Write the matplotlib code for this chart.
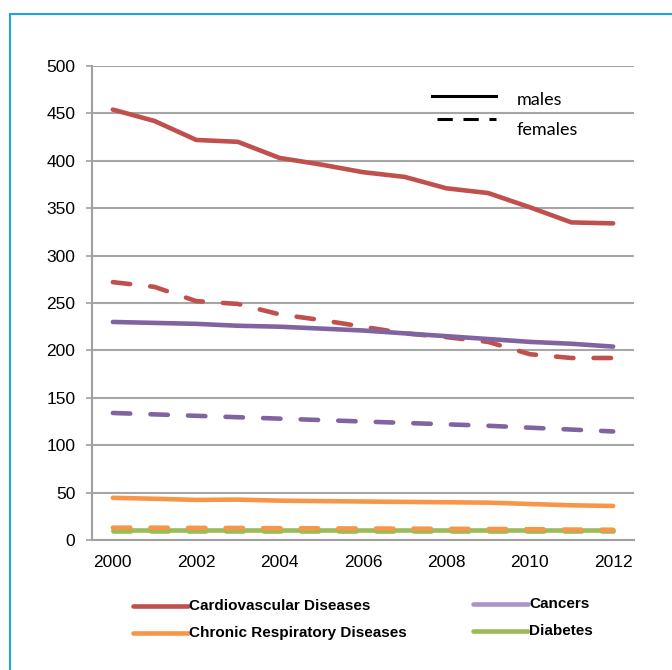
import matplotlib
matplotlib.use("Agg")
import matplotlib.pyplot as plt
from matplotlib.lines import Line2D
from matplotlib.patches import Rectangle

# Data (deaths per 100 000)
years = list(range(2000, 2013))
cvd_m = [454, 442, 422, 420, 403, 396, 388, 383, 371, 366, 351, 335, 334]
cvd_f = [272, 267, 252, 249, 238, 232, 225, 218, 214, 209, 196, 192, 192]
cancer_m = [230, 229, 228, 226, 225, 223, 221, 218, 215, 212, 209, 207, 204]
cancer_f = [134, 132.5, 131, 129.5, 128, 126.5, 125, 123.5, 122, 120.5, 118.5, 116.5, 114.5]
crd_m = [44.5, 43.5, 42.3, 42.6, 41.5, 41.0, 40.6, 40.2, 39.8, 39.4, 38.0, 36.6, 35.9]
crd_f = [13, 13, 12.8, 12.7, 12.4, 12.3, 12.1, 12.0, 11.8, 11.6, 11.4, 11.0, 10.8]
diab_m = [11, 11, 11, 11, 11, 11, 11, 11, 11, 11, 11, 11, 11]
diab_f = [10, 10, 10, 10, 10, 10, 10, 10, 10, 10, 10, 10, 10]

names = ["Cardiovascular Diseases", "Cancers", "Chronic Respiratory Diseases", "Diabetes"]
colors = ["#C0504D", "#8064A2", "#F79646", "#9BBB59"]
legend_colors = ["#C0504D", "#A995C6", "#F79646", "#9BBB59"]

W, H = 672, 670
fig = plt.figure(figsize=(W / 100, H / 100), dpi=100)

def fx(px):
    return px / W

def fy(py):
    return 1 - py / H

ax = fig.add_axes([fx(92), fy(540), fx(634) - fx(92), fy(66) - fy(540)])

idx = list(range(len(years)))
lw = 3.3
dash = (3.8, 4.4)

males = [cvd_m, cancer_m, crd_m, diab_m]
females = [cvd_f, cancer_f, crd_f, diab_f]
# draw diabetes first so the orange dashes sit on top
for k in [3, 0, 1, 2]:
    ax.plot(idx, males[k], color=colors[k], lw=lw, solid_capstyle="round",
            solid_joinstyle="round", zorder=3)
    ax.plot(idx, females[k], color=colors[k], lw=lw, dashes=dash,
            dash_capstyle="round", zorder=3)

ax.set_xlim(-0.5, 12.5)
ax.set_ylim(0, 500)
ax.set_yticks(range(0, 501, 50))
ax.set_xticks(idx[::2])
ax.set_xticklabels([str(y) for y in years[::2]])
ax.grid(axis="y", color="#A6A6A6", lw=1.5, zorder=1)
ax.set_axisbelow(True)
for s in ["top", "right"]:
    ax.spines[s].set_visible(False)
for s in ["left", "bottom"]:
    ax.spines[s].set_color("#A0A0A0")
    ax.spines[s].set_linewidth(1.5)
ax.tick_params(axis="y", length=4, width=1.2, color="#A0A0A0", pad=8,
               labelsize=12.5)
ax.tick_params(axis="x", length=0, pad=11, labelsize=12.5)
for lab in ax.get_xticklabels() + ax.get_yticklabels():
    lab.set_fontfamily("Liberation Sans")

# males / females key
fig.add_artist(Line2D([fx(432), fx(496)], [fy(96), fy(96)], color="black", lw=2.2))
fig.add_artist(Line2D([fx(437), fx(496)], [fy(119), fy(119)], color="black", lw=2.2,
                      dashes=(5, 3.5)))
fig.text(fx(517), fy(100), "males", fontsize=13, family="Lato", va="center")
fig.text(fx(517), fy(130), "females", fontsize=13, family="Lato", va="center")

# series legend
leg_pos = [(133, 606), (473, 604), (133, 633), (473, 631)]
for k, (x0, y0) in enumerate(leg_pos):
    fig.add_artist(Line2D([fx(x0), fx(x0 + 55)], [fy(y0), fy(y0)],
                          color=legend_colors[k], lw=3.3, solid_capstyle="round"))
    fig.text(fx(x0 + 56), fy(y0), names[k], fontsize=11, fontweight="bold",
             family="Liberation Sans", va="center")

# blue frame
fig.add_artist(Rectangle((fx(10), fy(700)), fx(700), fy(14) - fy(700),
                         fill=False, edgecolor="#1FA3E6", lw=1.5))

fig.savefig("out.png", dpi=100)
